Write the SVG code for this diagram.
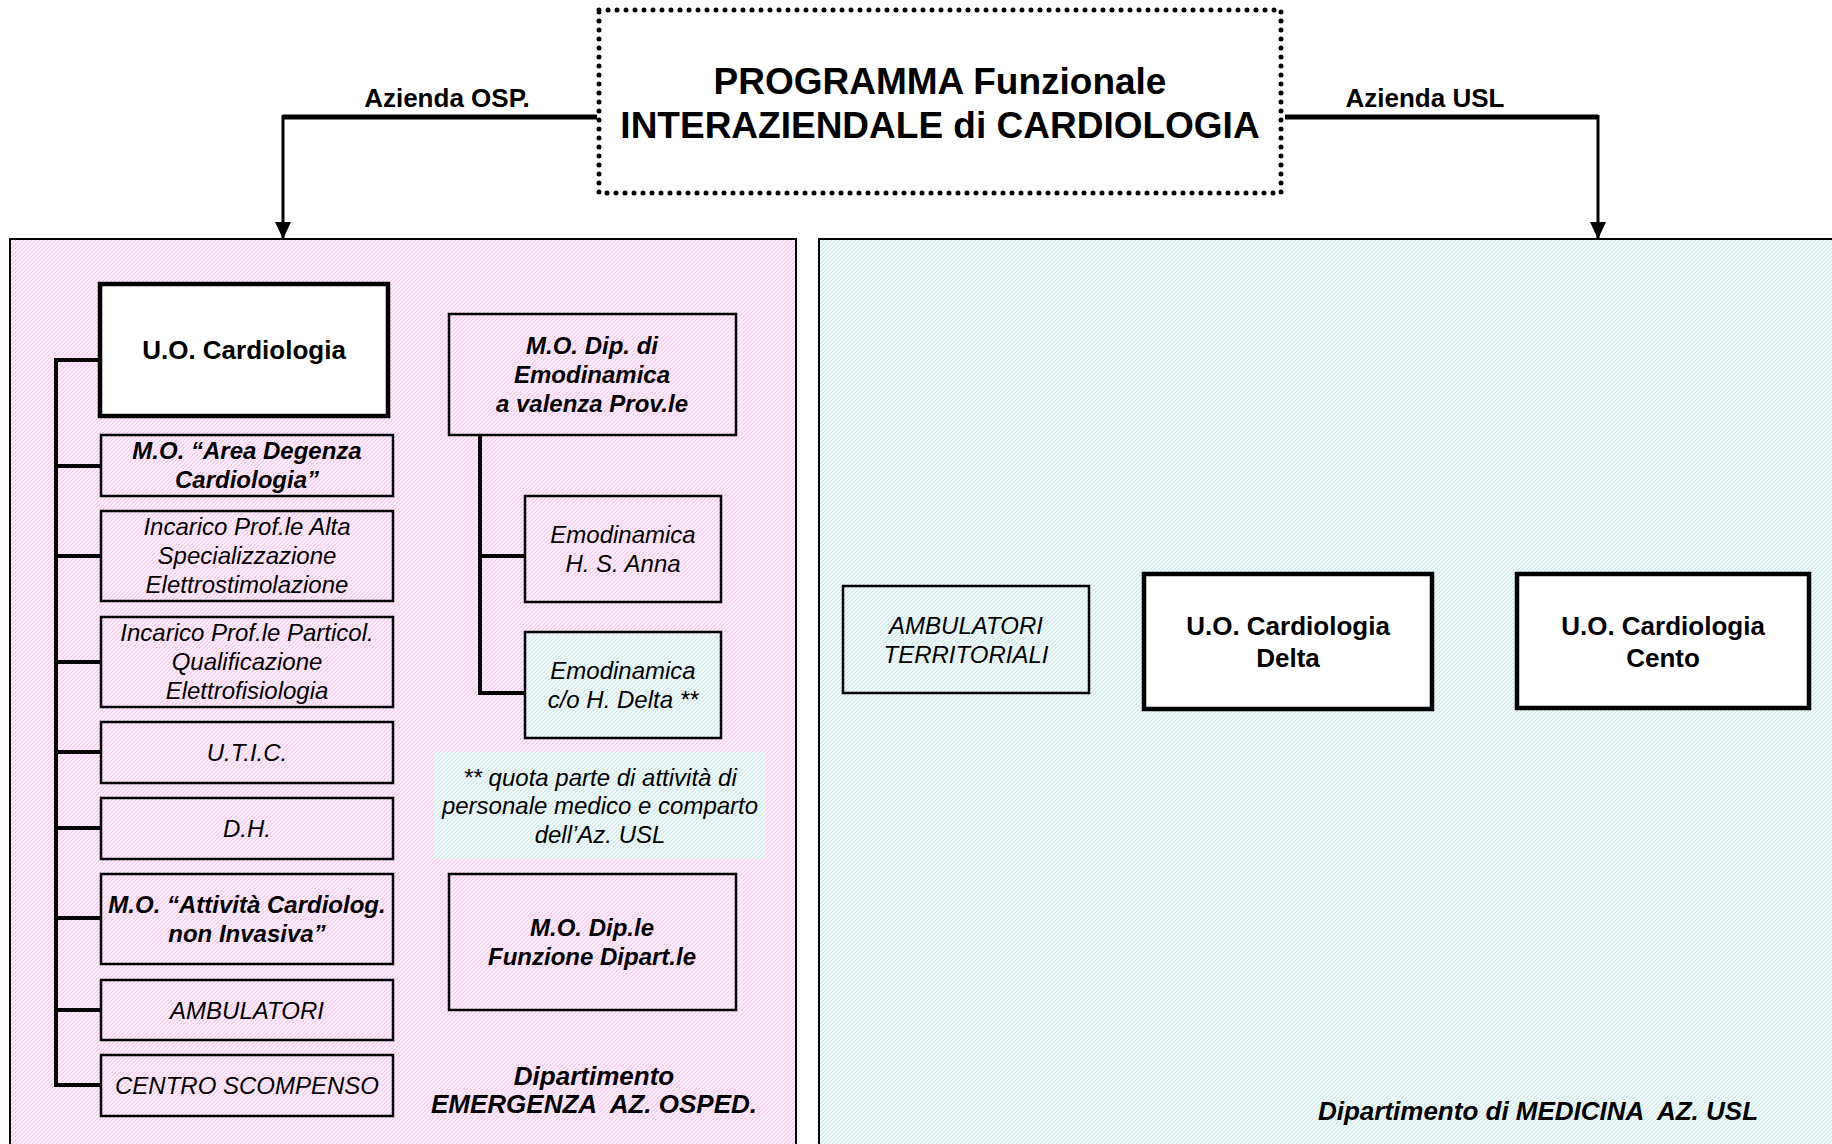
<svg xmlns="http://www.w3.org/2000/svg" width="1832" height="1144" viewBox="0 0 1832 1144">
<defs>
<pattern id="pink" patternUnits="userSpaceOnUse" width="4" height="4">
<rect width="4" height="4" fill="#ffffff"/>
<path d="M-1,1 L1,-1 M0,4 L4,0 M3,5 L5,3" stroke="#f8c6f0" stroke-width="1.5"/>
</pattern>
<pattern id="cyan" patternUnits="userSpaceOnUse" width="4" height="4">
<rect width="4" height="4" fill="#ffffff"/>
<path d="M-1,1 L1,-1 M0,4 L4,0 M3,5 L5,3" stroke="#c9e8e8" stroke-width="1.3"/>
</pattern>
<marker id="arr" markerUnits="userSpaceOnUse" markerWidth="18" markerHeight="18" refX="17" refY="9" orient="auto" viewBox="0 0 18 18">
<path d="M0,1 L17,9 L0,17 Z" fill="#000"/>
</marker>
</defs>
<style>
text{font-family:"Liberation Sans",Arial,sans-serif;fill:#000;text-anchor:middle}
.b{font-weight:bold;font-size:26px}
.bi{font-weight:bold;font-style:italic;font-size:24px}
.i{font-style:italic;font-size:24px}
.bi26{font-weight:bold;font-style:italic;font-size:26px}
.box{fill:none;stroke:#000;stroke-width:2.5}
.thick{fill:#fff;stroke:#000;stroke-width:4.5}
.bus{stroke:#000;stroke-width:4;fill:none}
</style>
<rect width="1832" height="1144" fill="#fff"/>
<g id="panel-osp">
<rect x="10" y="239" width="786" height="920" fill="url(#pink)" stroke="#000" stroke-width="2"/>
<text class="bi26" x="594" y="1085">Dipartimento</text>
<text class="bi26" x="594" y="1113" xml:space="preserve">EMERGENZA  AZ. OSPED.</text>
</g>
<g id="panel-usl">
<rect x="819" y="239" width="1030" height="920" fill="url(#cyan)" stroke="#000" stroke-width="2"/>
<text class="bi26" x="1538" y="1120" xml:space="preserve">Dipartimento di MEDICINA  AZ. USL</text>
</g>
<g id="title">
<rect x="599" y="10" width="682" height="183" fill="#fff" stroke="#000" stroke-width="5" stroke-dasharray="0 9" stroke-linecap="round"/>
<text x="940" y="94" style="font-weight:bold;font-size:37px">PROGRAMMA Funzionale</text>
<text x="940" y="138" style="font-weight:bold;font-size:37px">INTERAZIENDALE di CARDIOLOGIA</text>
</g>
<g id="connectors">
<path d="M597,117 H283" stroke="#000" stroke-width="5" fill="none"/>
<path d="M283,115 V239" stroke="#000" stroke-width="3" fill="none" marker-end="url(#arr)"/>
<path d="M1285,117 H1598" stroke="#000" stroke-width="5" fill="none"/>
<path d="M1598,115 V239" stroke="#000" stroke-width="3" fill="none" marker-end="url(#arr)"/>
<path class="bus" d="M102,360 H56 V1085 H101"/>
<path class="bus" d="M56,466 H101 M56,556 H101 M56,662 H101 M56,752 H101 M56,828 H101 M56,918 H101 M56,1010 H101"/>
<path class="bus" d="M480,435 V693 H525 M480,556 H525"/>
<text class="b" x="447" y="107">Azienda OSP.</text>
<text class="b" x="1425" y="107">Azienda USL</text>
</g>
<g id="uo-cardiologia">
<rect class="thick" x="100" y="284" width="288" height="132"/>
<text class="b" x="244" y="359">U.O. Cardiologia</text>
</g>
<g id="mo-area-degenza">
<rect class="box" x="101" y="435" width="292" height="61"/>
<text class="bi" x="247" y="459">M.O. “Area Degenza</text>
<text class="bi" x="247" y="488">Cardiologia”</text>
</g>
<g id="incarico-alta">
<rect class="box" x="101" y="511" width="292" height="90"/>
<text class="i" x="247" y="535">Incarico Prof.le Alta</text>
<text class="i" x="247" y="564">Specializzazione</text>
<text class="i" x="247" y="593">Elettrostimolazione</text>
</g>
<g id="incarico-particol">
<rect class="box" x="101" y="617" width="292" height="90"/>
<text class="i" x="247" y="641">Incarico Prof.le Particol.</text>
<text class="i" x="247" y="670">Qualificazione</text>
<text class="i" x="247" y="699">Elettrofisiologia</text>
</g>
<g id="utic">
<rect class="box" x="101" y="722" width="292" height="61"/>
<text class="i" x="247" y="761">U.T.I.C.</text>
</g>
<g id="dh">
<rect class="box" x="101" y="798" width="292" height="61"/>
<text class="i" x="247" y="837">D.H.</text>
</g>
<g id="mo-attivita">
<rect class="box" x="101" y="874" width="292" height="90"/>
<text class="bi" x="247" y="913">M.O. “Attività Cardiolog.</text>
<text class="bi" x="247" y="942">non Invasiva”</text>
</g>
<g id="ambulatori">
<rect class="box" x="101" y="980" width="292" height="60"/>
<text class="i" x="247" y="1019">AMBULATORI</text>
</g>
<g id="centro-scompenso">
<rect class="box" x="101" y="1055" width="292" height="61"/>
<text class="i" x="247" y="1094">CENTRO SCOMPENSO</text>
</g>
<g id="mo-emodinamica">
<rect class="box" x="449" y="314" width="287" height="121"/>
<text class="bi" x="592" y="354">M.O. Dip. di</text>
<text class="bi" x="592" y="383">Emodinamica</text>
<text class="bi" x="592" y="412">a valenza Prov.le</text>
</g>
<g id="emo-santanna">
<rect class="box" x="525" y="496" width="196" height="106"/>
<text class="i" x="623" y="543">Emodinamica</text>
<text class="i" x="623" y="572">H. S. Anna</text>
</g>
<g id="emo-delta">
<rect class="box" x="525" y="632" width="196" height="106" style="fill:url(#cyan)"/>
<text class="i" x="623" y="679">Emodinamica</text>
<text class="i" x="623" y="708">c/o H. Delta **</text>
</g>
<g id="nota">
<rect x="434" y="752" width="332" height="107" fill="url(#cyan)"/>
<text class="i" x="600" y="786">** quota parte di attività di</text>
<text class="i" x="600" y="814">personale medico e comparto</text>
<text class="i" x="600" y="843">dell’Az. USL</text>
</g>
<g id="mo-funzione">
<rect class="box" x="449" y="874" width="287" height="136"/>
<text class="bi" x="592" y="936">M.O. Dip.le</text>
<text class="bi" x="592" y="965">Funzione Dipart.le</text>
</g>
<g id="ambulatori-territoriali">
<rect class="box" x="843" y="586" width="246" height="107"/>
<text class="i" x="966" y="634">AMBULATORI</text>
<text class="i" x="966" y="663">TERRITORIALI</text>
</g>
<g id="uo-delta">
<rect class="thick" x="1144" y="574" width="288" height="135"/>
<text class="b" x="1288" y="635">U.O. Cardiologia</text>
<text class="b" x="1288" y="667">Delta</text>
</g>
<g id="uo-cento">
<rect class="thick" x="1517" y="574" width="292" height="134"/>
<text class="b" x="1663" y="635">U.O. Cardiologia</text>
<text class="b" x="1663" y="667">Cento</text>
</g>
</svg>
